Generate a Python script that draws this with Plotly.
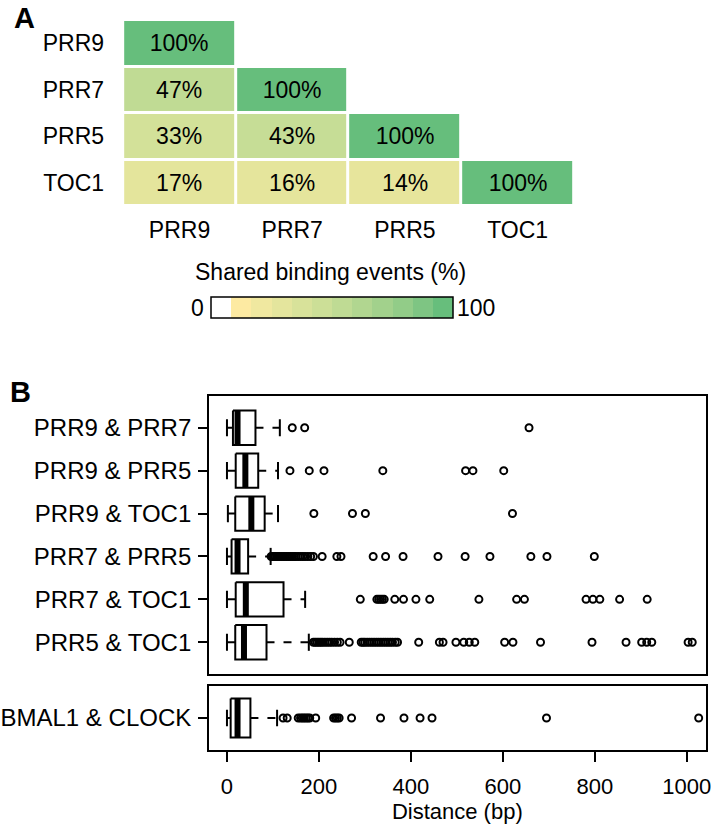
import plotly.graph_objects as go

# ---------------- Panel A data ----------------
genes = ["PRR9", "PRR7", "PRR5", "TOC1"]
shared_pct = [
    [100, None, None, None],
    [47, 100, None, None],
    [33, 43, 100, None],
    [17, 16, 14, 100],
]
cbar_colors = ["#FFFFFF", "#FDEAA2", "#F0E8A0", "#E4E59D", "#D8E29A", "#CCDF97",
               "#BFDB94", "#B1D690", "#A2D18C", "#92CC88", "#7EC583", "#67BE7C"]

# ---------------- Panel B data ----------------
pair_labels = ["PRR9 & PRR7", "PRR9 & PRR5", "PRR9 & TOC1",
               "PRR7 & PRR5", "PRR7 & TOC1", "PRR5 & TOC1"]
lower_whisker = [0, 0, 2, 0, 0, 0]
q1 = [13, 19, 18, 10, 19, 18]
median = [23, 40, 53, 23, 41, 37]
q3 = [62, 68, 82, 46, 123, 86]
upper_whisker = [115, 111, 111, 95, 170, 178]
outliers = [
    [142, 169, 657],
    [137, 179, 211, 339, 519, 535, 602],
    [189, 273, 301, 621],
    [96, 99, 102, 105, 108, 111, 114, 118, 122, 126, 130, 134, 138, 142, 146, 150,
     155, 160, 165, 170, 176, 182, 188, 207, 239, 248, 318, 345, 383, 459, 518,
     572, 661, 696, 799],
    [290, 326, 330, 334, 338, 342, 365, 384, 411, 441, 548, 630, 647, 781, 796,
     811, 854, 914],
    [188, 192, 196, 200, 204, 208, 213, 218, 223, 228, 234, 240, 246, 266, 292,
     296, 300, 305, 310, 315, 320, 325, 330, 335, 340, 345, 350, 355, 360, 366,
     371, 417, 462, 470, 498, 515, 527, 539, 604, 622, 682, 794, 868, 902, 913,
     924, 1003, 1012],
]
ctrl_label = ["BMAL1 & CLOCK"]
ctrl_lower = [0]
ctrl_q1 = [8]
ctrl_median = [23]
ctrl_q3 = [51]
ctrl_upper = [109]
ctrl_outliers = [[122, 131, 155, 160, 164, 168, 172, 176, 180, 193, 232, 236, 240,
                  244, 271, 334, 385, 420, 446, 695, 1026]]

x_ticks = [0, 200, 400, 600, 800, 1000]

W, H = 721, 832
FONT = "Liberation Sans, Arial, sans-serif"
FS_A = 23
FS_B = 24
FS_T = 22


def px_x(p):
    return p / W


def px_y(p):
    return 1 - p / H


fig = go.Figure()

# ---------------- Panel A: heatmap ----------------
text = [[("" if v is None else f"{v}%") for v in row] for row in shared_pct]
fig.add_trace(go.Heatmap(
    z=shared_pct, x=list(range(4)), y=list(range(4)),
    text=text, texttemplate="%{text}",
    textfont=dict(family=FONT, size=FS_A, color="black"),
    colorscale=[[0.0, "#FCEBA2"], [0.15, "#E6E59C"], [0.33, "#D3E199"],
                [0.45, "#C3DC95"], [1.0, "#66BE7C"]],
    zmin=0, zmax=100, showscale=False, xgap=3, ygap=3,
    hoverinfo="skip", xaxis="x", yaxis="y"))

# colorbar (discrete) via an invisible helper trace
n = len(cbar_colors)
cs = []
for i, c in enumerate(cbar_colors):
    cs.append([i / n, c])
    cs.append([(i + 1) / n, c])
fig.add_trace(go.Scatter(
    x=[0], y=[0], mode="markers", hoverinfo="skip", showlegend=False,
    marker=dict(size=1, opacity=0, color=[0], cmin=0, cmax=100, colorscale=cs,
                showscale=True,
                colorbar=dict(orientation="h", x=px_x(212), xanchor="left",
                              y=px_y(297), yanchor="top",
                              len=242, lenmode="pixels", thickness=21,
                              thicknessmode="pixels", outlinewidth=1.5,
                              outlinecolor="black", showticklabels=False,
                              ticks="", xpad=0, ypad=0)),
    xaxis="x", yaxis="y"))

# ---------------- Panel B: box plots ----------------
def add_boxes(labels, lo, a, m, b, hi, outs, xa, ya, half, cap):
    bx, by, mx, my, wx, wy, cx, cy, ox, oy = [], [], [], [], [], [], [], [], [], []
    for i in range(len(labels)):
        r = i + 1
        bx += [a[i], b[i], b[i], a[i], a[i], None]
        by += [r - half, r - half, r + half, r + half, r - half, None]
        mx += [m[i], m[i], None]
        my += [r - half, r + half, None]
        wx += [b[i], hi[i], None, a[i], lo[i], None]
        wy += [r, r, None, r, r, None]
        cx += [hi[i], hi[i], None, lo[i], lo[i], None]
        cy += [r - cap, r + cap, None, r - cap, r + cap, None]
        ox += outs[i]
        oy += [r] * len(outs[i])
    common = dict(xaxis=xa, yaxis=ya, hoverinfo="skip", showlegend=False)
    fig.add_trace(go.Scatter(x=wx, y=wy, mode="lines",
                             line=dict(color="black", width=2, dash="8px,9px"), **common))
    fig.add_trace(go.Scatter(x=cx, y=cy, mode="lines",
                             line=dict(color="black", width=2), **common))
    fig.add_trace(go.Scatter(x=bx, y=by, mode="lines", fill="toself", fillcolor="white",
                             line=dict(color="black", width=2), **common))
    fig.add_trace(go.Scatter(x=mx, y=my, mode="lines",
                             line=dict(color="black", width=6), **common))
    fig.add_trace(go.Scatter(x=ox, y=oy, mode="markers",
                             marker=dict(symbol="circle-open", size=7, color="black",
                                         line=dict(width=2, color="black")), **common))


add_boxes(pair_labels, lower_whisker, q1, median, q3, upper_whisker, outliers,
          "x3", "y3", 0.4, 0.2)
add_boxes(ctrl_label, ctrl_lower, ctrl_q1, ctrl_median, ctrl_q3, ctrl_upper,
          ctrl_outliers, "x2", "y2", 0.33, 0.14)

xr = [-39, 1041]
fontA = dict(family=FONT, size=FS_A, color="black")
fontB = dict(family=FONT, size=FS_B, color="black")
fontT = dict(family=FONT, size=FS_T, color="black")
fig.update_layout(
    width=W, height=H, margin=dict(l=0, r=0, t=0, b=0),
    paper_bgcolor="white", plot_bgcolor="white", showlegend=False,
    font=dict(family=FONT, size=FS_A, color="black"),
    # heatmap axes
    xaxis=dict(domain=[px_x(124), px_x(578)], range=[-0.5, 3.5],
               tickvals=list(range(4)), ticktext=genes, ticks="",
               showgrid=False, zeroline=False, showline=False,
               tickfont=fontA, ticklabelstandoff=8),
    yaxis=dict(domain=[px_y(206), px_y(20)], range=[3.5, -0.5],
               tickvals=list(range(4)), ticktext=genes, ticks="",
               showgrid=False, zeroline=False, showline=False,
               tickfont=fontA, ticklabelstandoff=18),
    # bottom (control) panel
    xaxis2=dict(domain=[px_x(210.5), px_x(710.5)], range=xr, anchor="y2",
                tickvals=x_ticks, ticks="outside", ticklen=10, tickwidth=2,
                tickcolor="black", showgrid=False, zeroline=False,
                showline=True, linewidth=2, linecolor="black", mirror=True,
                tickfont=fontT, ticklabelstandoff=6,
                title=dict(text="Distance (bp)", font=fontT, standoff=2)),
    yaxis2=dict(domain=[px_y(750), px_y(686)], range=[1.54, 0.46], anchor="x2",
                tickvals=[1], ticktext=ctrl_label, ticks="outside", ticklen=9,
                tickwidth=2, tickcolor="black", showgrid=False, zeroline=False,
                showline=True, linewidth=2, linecolor="black", mirror=True,
                tickfont=fontB, ticklabelstandoff=2),
    # top (pairs) panel
    xaxis3=dict(domain=[px_x(210.5), px_x(710.5)], range=xr, anchor="y3",
                matches="x2", showticklabels=False, ticks="", showgrid=False,
                zeroline=False, showline=True, linewidth=2, linecolor="black",
                mirror=True),
    yaxis3=dict(domain=[px_y(674), px_y(396)], range=[6.74, 0.26], anchor="x3",
                tickvals=list(range(1, 7)), ticktext=pair_labels, ticks="outside",
                ticklen=9, tickwidth=2, tickcolor="black", showgrid=False,
                zeroline=False, showline=True, linewidth=2, linecolor="black",
                mirror=True, tickfont=fontB, ticklabelstandoff=2),
    annotations=[
        dict(text="<b>A</b>", x=px_x(12), y=px_y(18), xref="paper", yref="paper",
             xanchor="left", yanchor="middle", showarrow=False,
             font=dict(family=FONT, size=29, color="black")),
        dict(text="<b>B</b>", x=px_x(8), y=px_y(392), xref="paper", yref="paper",
             xanchor="left", yanchor="middle", showarrow=False,
             font=dict(family=FONT, size=29, color="black")),
        dict(text="Shared binding events (%)", x=px_x(333), y=px_y(272),
             xref="paper", yref="paper", xanchor="center", yanchor="middle",
             showarrow=False, font=fontA),
        dict(text="0", x=px_x(207), y=px_y(308), xref="paper", yref="paper",
             xanchor="right", yanchor="middle", showarrow=False, font=fontA),
        dict(text="100", x=px_x(458), y=px_y(308), xref="paper", yref="paper",
             xanchor="left", yanchor="middle", showarrow=False, font=fontA),
    ],
)

fig.write_html(
    "out.html",
    config={"displayModeBar": False},
    post_script="document.body.style.margin='0';document.body.style.overflow='hidden';",
)
